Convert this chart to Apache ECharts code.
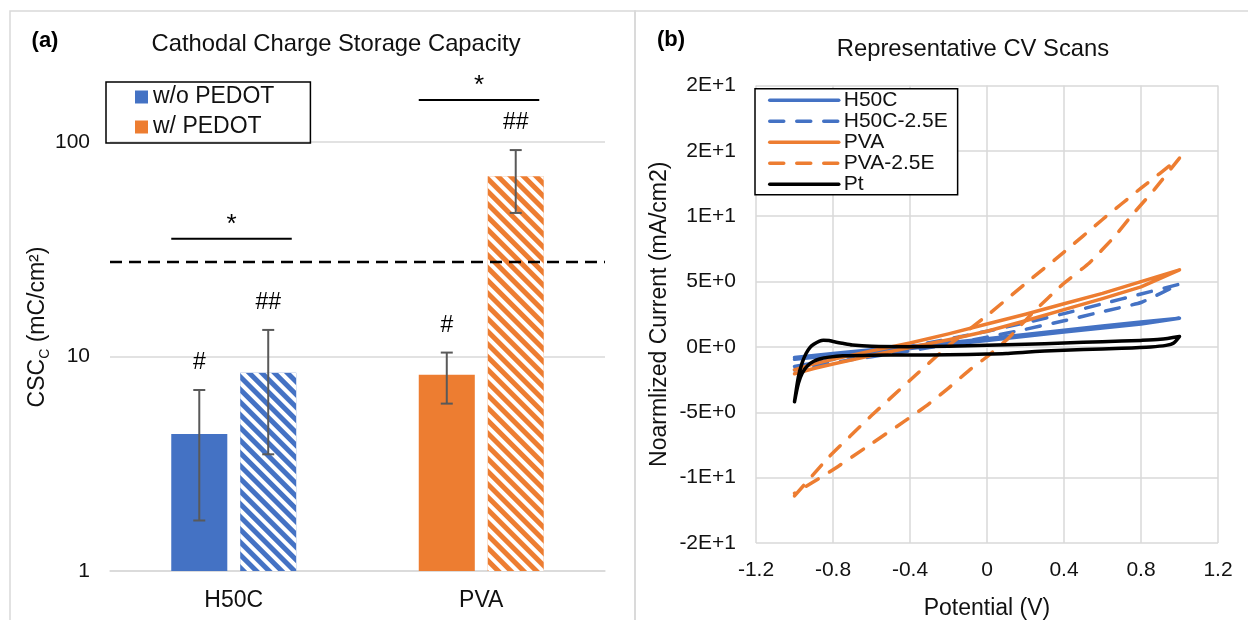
<!DOCTYPE html>
<html><head><meta charset="utf-8">
<script src="https://cdn.jsdelivr.net/npm/echarts@6/dist/echarts.min.js"></script>
<style>html,body{margin:0;padding:0;background:#fff}#c{width:1248px;height:620px}</style>
</head><body><div id="c"></div>
<script>
// ---------- data: panel (a) ----------
const categories = ['H50C', 'PVA'];
const woPedotMean = [4.35, 8.23];
const woPedotErr = [2.63, 2.2];
const wPedotMean = [8.4, 69.2];
const wPedotErr = [4.9, 22.5];
const woPedotMarks = ['#', '#'];
const wPedotMarks = ['##', '##'];
const sigLineValue = [35.4, 157];
const sigLabels = ['*', '*'];
const ptReferenceCSC = 27.6;
// ---------- data: panel (b) ----------
const cvXTickLabels = ['-1.2', '-0.8', '-0.4', '0', '0.4', '0.8', '1.2'];
const cvYTickLabels = ['-2E+1', '-1E+1', '-5E+0', '0E+0', '5E+0', '1E+1', '2E+1', '2E+1'];
const cvH50C = [[-1.0,-0.8],[-0.8,-0.5],[-0.6,-0.22],[-0.4,0.05],[-0.2,0.32],[0,0.62],[0.2,0.95],[0.4,1.28],[0.6,1.6],[0.8,1.9],[1.0,2.2],
  [0.8,1.75],[0.6,1.45],[0.4,1.15],[0.2,0.82],[0,0.5],[-0.2,0.18],[-0.4,-0.12],[-0.6,-0.4],[-0.8,-0.65],[-1.0,-0.95]];
const cvH50C25E = [[-1.0,-1.5],[-0.8,-0.95],[-0.6,-0.45],[-0.4,0.05],[-0.2,0.6],[0,1.2],[0.2,1.85],[0.4,2.55],[0.6,3.3],[0.8,4.05],[1.0,4.8],
  [0.8,3.4],[0.6,2.7],[0.4,2.0],[0.2,1.35],[0,0.75],[-0.2,0.2],[-0.4,-0.3],[-0.6,-0.75],[-0.8,-1.2],[-1.0,-1.76]];
const cvPVA = [[-1.0,-1.75],[-0.9,-1.3],[-0.8,-0.95],[-0.6,-0.3],[-0.4,0.3],[-0.2,1.0],[0,1.75],[0.2,2.5],[0.4,3.3],[0.6,4.1],[0.8,5.0],[1.0,5.9],
  [0.8,4.6],[0.6,3.7],[0.4,2.85],[0.2,2.0],[0,1.2],[-0.2,0.55],[-0.4,-0.05],[-0.6,-0.65],[-0.8,-1.3],[-0.9,-1.65],[-1.0,-2.05]];
const cvPVA25E = [[-1.0,-11.4],[-0.82,-8.4],[-0.6,-5.25],[-0.4,-2.55],[-0.2,0.1],[0,2.4],[0.2,4.85],[0.4,7.25],[0.6,9.75],[0.8,12.15],[1.0,14.45],
  [0.87,12.05],[0.76,10.2],[0.66,8.4],[0.53,6.4],[0.39,4.75],[0.24,2.65],[0.11,0.65],[0,-0.75],[-0.09,-1.75],[-0.2,-3.15],[-0.31,-4.45],[-0.43,-5.7],[-0.62,-7.6],[-0.8,-9.4],[-1.0,-11.2]];
const cvPt = [[-1.0,-4.2],[-0.98,-2.3],[-0.96,-1.2],[-0.94,-0.5],[-0.92,-0.05],[-0.9,0.2],[-0.87,0.45],[-0.85,0.52],[-0.82,0.5],[-0.8,0.42],[-0.75,0.28],[-0.7,0.15],[-0.6,0.05],[-0.4,0.02],[-0.2,0.05],[0,0.12],[0.2,0.2],[0.4,0.3],[0.6,0.4],[0.8,0.5],[0.9,0.58],[1.0,0.8],
  [0.97,0.3],[0.93,0.12],[0.85,0.0],[0.7,-0.1],[0.5,-0.2],[0.3,-0.32],[0.2,-0.4],[0.1,-0.5],[0,-0.55],[-0.2,-0.6],[-0.4,-0.62],[-0.6,-0.63],[-0.75,-0.68],[-0.82,-0.78],[-0.87,-0.92],[-0.9,-1.1],[-0.93,-1.4],[-0.96,-2.0],[-0.98,-2.8],[-1.0,-4.2]];
const cvNames = ['H50C', 'H50C-2.5E', 'PVA', 'PVA-2.5E', 'Pt'];

// ---------- styling ----------
const FONT = '"Liberation Sans", Arial, Helvetica, sans-serif';
const BLUE = '#4472C4', ORANGE = '#ED7D31', GRID = '#D9D9D9', TXT = '#111';
const catColors = [BLUE, ORANGE];
const BAR_CAT_GAP = 0.495, BAR_GAP = 0.23;
const hatch = { symbol: 'rect', symbolSize: 1, dashArrayX: [1, 0], dashArrayY: [3.5, 4.5], rotation: Math.PI / 4, color: '#ffffff' };

function barGeom(api, cat, s) {
  const band = api.coord([1, 1])[0] - api.coord([0, 1])[0];
  const bw = band * (1 - BAR_CAT_GAP) / (2 + BAR_GAP);
  const off = (bw + bw * BAR_GAP) / 2;
  const cx = api.coord([cat, 1])[0];
  return { x: cx + (s === 0 ? -off : off), bw: bw, cx: cx, off: off };
}

const errData = [];
const errMarks = [];
categories.forEach((c, i) => {
  errData.push([i, woPedotMean[i], woPedotErr[i], 0]); errMarks.push(woPedotMarks[i]);
  errData.push([i, wPedotMean[i], wPedotErr[i], 1]); errMarks.push(wPedotMarks[i]);
});
const sigData = categories.map((c, i) => [i, sigLineValue[i]]);

const dashed = [14, 13];
function cvSeries(name, data, color, dash, z) {
  return { name: name, type: 'line', xAxisIndex: 1, yAxisIndex: 1, data: data, symbol: 'none', showSymbol: false,
    legendIcon: 'none',
    smooth: name === 'Pt' ? 0.25 : (dash ? 0.12 : false), z: z, itemStyle: { color: color, opacity: 0 },
    lineStyle: { color: color, width: 3.5, type: dash ? dashed : 'solid', cap: 'round', join: 'round' } };
}

const chart = echarts.init(document.getElementById('c'));
const option = {
  animation: false,
  textStyle: { fontFamily: FONT },
  grid: [
    { left: 110, top: 142, width: 495, height: 429, containLabel: false, outerBoundsMode: 'none' },
    { left: 756, top: 85.5, width: 462, height: 457.5, containLabel: false, outerBoundsMode: 'none' }
  ],
  legend: [
    { data: ['w/o PEDOT', 'w/ PEDOT'], orient: 'vertical', left: 106, top: 82, icon: 'rect',
      itemWidth: 13, itemHeight: 13, itemGap: 4, padding: [2, 36, 3, 29], borderColor: '#000', borderWidth: 1.5,
      selectedMode: false, textStyle: { fontSize: 23, color: TXT, fontFamily: FONT, lineHeight: 26 } },
    { data: cvNames, orient: 'vertical', left: 755, top: 88.7, itemWidth: 69, itemHeight: 14, itemGap: 0,
      padding: [1, 10, 0, 13], borderColor: '#000', borderWidth: 1.5, backgroundColor: '#fff', selectedMode: false,
      itemStyle: { opacity: 0 }, lineStyle: { width: 3.5 },
      textStyle: { fontSize: 21, color: TXT, fontFamily: FONT, lineHeight: 21 } }
  ],
  xAxis: [
    { type: 'category', gridIndex: 0, data: categories, axisTick: { show: false },
      axisLine: { lineStyle: { color: GRID, width: 1.5 } },
      axisLabel: { fontSize: 23, color: TXT, margin: 18, fontFamily: FONT } },
    { type: 'value', gridIndex: 1, min: -1.2, max: 1.2, interval: 0.4,
      axisLine: { show: false }, axisTick: { show: false },
      splitLine: { show: true, lineStyle: { color: GRID, width: 1.5 } },
      axisLabel: { fontSize: 21, color: TXT, margin: 17, fontFamily: FONT,
        formatter: v => cvXTickLabels[Math.round((v + 1.2) / 0.4)] },
      name: 'Potential (V)', nameLocation: 'middle', nameGap: 54,
      nameTextStyle: { fontSize: 23, color: TXT, fontFamily: FONT } }
  ],
  yAxis: [
    { type: 'log', gridIndex: 0, min: 1, max: 100, logBase: 10,
      axisLine: { show: false }, axisTick: { show: false },
      splitLine: { show: true, lineStyle: { color: GRID, width: 1.5 } },
      axisLabel: { fontSize: 21, color: TXT, margin: 20, fontFamily: FONT } },
    { type: 'value', gridIndex: 1, min: -15, max: 20, interval: 5,
      axisLine: { show: false }, axisTick: { show: false },
      splitLine: { show: true, lineStyle: { color: GRID, width: 1.5 } },
      axisLabel: { fontSize: 21, color: TXT, margin: 20, fontFamily: FONT,
        formatter: v => cvYTickLabels[Math.round((v + 15) / 5)] },
      name: 'Noarmlized Current (mA/cm2)', nameLocation: 'middle', nameGap: 85,
      nameTextStyle: { fontSize: 23, color: TXT, fontFamily: FONT } }
  ],
  series: [
    { name: 'w/o PEDOT', type: 'bar', xAxisIndex: 0, yAxisIndex: 0, barGap: (BAR_GAP * 100) + '%', barCategoryGap: (BAR_CAT_GAP * 100) + '%',
      itemStyle: { color: BLUE },
      data: woPedotMean.map((v, i) => ({ value: v, itemStyle: { color: catColors[i] } })),
      markLine: { silent: true, symbol: ['none', 'none'], label: { show: false },
        lineStyle: { color: '#000', width: 2.4, type: [12, 7] }, data: [{ yAxis: ptReferenceCSC }] } },
    { name: 'w/ PEDOT', type: 'bar', xAxisIndex: 0, yAxisIndex: 0, barGap: (BAR_GAP * 100) + '%', barCategoryGap: (BAR_CAT_GAP * 100) + '%',
      itemStyle: { color: ORANGE },
      data: wPedotMean.map((v, i) => ({ value: v, itemStyle: { color: catColors[i], decal: hatch } })) },
    { name: 'errors', type: 'custom', xAxisIndex: 0, yAxisIndex: 0, data: errData, encode: { x: 0, y: 1 }, z: 5, silent: true,
      renderItem: function (params, api) {
        const cat = api.value(0), m = api.value(1), e = api.value(2), s = api.value(3);
        const g = barGeom(api, cat, s);
        const yTop = api.coord([cat, m + e])[1];
        const yBot = api.coord([cat, m - e])[1];
        const cap = 6;
        const st = { stroke: '#595959', lineWidth: 2 };
        return { type: 'group', children: [
          { type: 'line', shape: { x1: g.x, y1: yTop, x2: g.x, y2: yBot }, style: st },
          { type: 'line', shape: { x1: g.x - cap, y1: yTop, x2: g.x + cap, y2: yTop }, style: st },
          { type: 'line', shape: { x1: g.x - cap, y1: yBot, x2: g.x + cap, y2: yBot }, style: st },
          { type: 'text', style: { x: g.x, y: yTop - 27, text: errMarks[params.dataIndex], align: 'center', verticalAlign: 'middle',
            font: '23px ' + FONT, fill: '#000' } }
        ] };
      } },
    { name: 'sig', type: 'custom', xAxisIndex: 0, yAxisIndex: 0, data: sigData, encode: { x: 0, y: 1 }, z: 5, silent: true,
      renderItem: function (params, api) {
        const cat = api.value(0), v = api.value(1);
        const g0 = barGeom(api, cat, 0), g1 = barGeom(api, cat, 1);
        const y = api.coord([cat, v])[1];
        const x1 = g0.x - g0.bw / 2, x2 = g1.x + g1.bw * 0.42;
        return { type: 'group', children: [
          { type: 'line', shape: { x1: x1, y1: y, x2: x2, y2: y }, style: { stroke: '#000', lineWidth: 2.2 } },
          { type: 'text', style: { x: (x1 + x2) / 2, y: y - 14, text: sigLabels[params.dataIndex], align: 'center', verticalAlign: 'middle',
            font: '26px ' + FONT, fill: '#000' } }
        ] };
      } },
    cvSeries('H50C', cvH50C, BLUE, false, 2),
    cvSeries('H50C-2.5E', cvH50C25E, BLUE, true, 3),
    cvSeries('PVA', cvPVA, ORANGE, false, 4),
    cvSeries('PVA-2.5E', cvPVA25E, ORANGE, true, 5),
    cvSeries('Pt', cvPt, '#000', false, 6)
  ],
  graphic: [
    { type: 'rect', silent: true, z: -10, shape: { x: 10, y: 11, width: 625, height: 640 }, style: { fill: null, stroke: GRID, lineWidth: 1.5 } },
    { type: 'rect', silent: true, z: -10, shape: { x: 635, y: 11, width: 640, height: 640 }, style: { fill: null, stroke: GRID, lineWidth: 1.5 } },
    { type: 'text', x: 45, y: 41, style: { text: '(a)', font: 'bold 22px ' + FONT, fill: '#000', align: 'center', verticalAlign: 'middle' } },
    { type: 'text', x: 671, y: 40, style: { text: '(b)', font: 'bold 22px ' + FONT, fill: '#000', align: 'center', verticalAlign: 'middle' } },
    { type: 'text', x: 336, y: 44, style: { text: 'Cathodal Charge Storage Capacity', font: '23.8px ' + FONT, fill: TXT, align: 'center', verticalAlign: 'middle' } },
    { type: 'text', x: 973, y: 49, style: { text: 'Representative CV Scans', font: '23.8px ' + FONT, fill: TXT, align: 'center', verticalAlign: 'middle' } },
    { type: 'text', x: 37.5, y: 327, rotation: Math.PI / 2,
      style: { text: '{n|CSC}{s|C}{n| (mC/cm²)}', align: 'center', verticalAlign: 'middle', fill: TXT, font: '23px ' + FONT,
        rich: { n: { fontSize: 23, fontFamily: FONT, fill: TXT, lineHeight: 30, verticalAlign: 'middle' },
                s: { fontSize: 14, fontFamily: FONT, fill: TXT, lineHeight: 14, verticalAlign: 'bottom', padding: [0, 0, 0, 0] } } } }
  ]
};
chart.setOption(option);
</script>
</body></html>
